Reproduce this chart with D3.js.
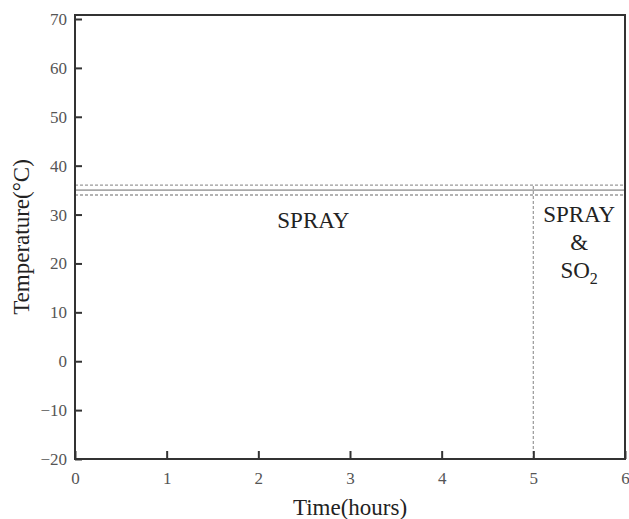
<!DOCTYPE html>
<html>
<head>
<meta charset="utf-8">
<script src="https://cdn.jsdelivr.net/npm/d3@7"></script>
<style>
  html, body { margin: 0; padding: 0; background: #fff; }
  svg text { font-family: "Liberation Serif", "Times New Roman", serif; }
</style>
</head>
<body>
<svg id="chart" width="629" height="519"></svg>
<script>
// Axis ticks
const xTicks = [0, 1, 2, 3, 4, 5, 6];
const yTicks = [-20, -10, 0, 10, 20, 30, 40, 50, 60, 70];

// Temperature set point and tolerance band (°C)
const setPoint = [35];
const bandLimits = [34, 36];

// Phase boundary (hours) and phase labels
const phaseSwitch = [5];
const phaseLabels = [
  { x: 2.6, y: 27.3, lines: ["SPRAY"] },
  { x: 5.5, y: 28.5, lines: ["SPRAY", "&", "SO2"] }
];

const margin = { top: 15, right: 4, bottom: 60, left: 75 };
const W = 629, H = 519;
const svg = d3.select("#chart");

const x = d3.scaleLinear().domain([0, 6]).range([margin.left, W - margin.right]);
const y = d3.scaleLinear().domain([-20, 70]).range([459, 19]);

const axisColor = "#333";

// Band lines
svg.selectAll("line.band").data(bandLimits).join("line")
  .attr("class", "band")
  .attr("x1", x(0)).attr("x2", x(6))
  .attr("y1", d => y(d)).attr("y2", d => y(d))
  .attr("stroke", "#9a9a9a").attr("stroke-width", 1.3)
  .attr("stroke-dasharray", "3,2");

// Set point line
svg.selectAll("line.set").data(setPoint).join("line")
  .attr("class", "set")
  .attr("x1", x(0)).attr("x2", x(6))
  .attr("y1", d => y(d)).attr("y2", d => y(d))
  .attr("stroke", "#a8a8a8").attr("stroke-width", 1.6);

// Phase boundary
svg.selectAll("line.phase").data(phaseSwitch).join("line")
  .attr("class", "phase")
  .attr("x1", d => x(d)).attr("x2", d => x(d))
  .attr("y1", y(-20)).attr("y2", y(bandLimits[1]))
  .attr("stroke", "#a0a0a0").attr("stroke-width", 1.3)
  .attr("stroke-dasharray", "3,2");

// Axes with inward ticks
const xAxis = d3.axisBottom(x).tickValues(xTicks).tickSizeInner(-8).tickSizeOuter(0).tickPadding(13)
  .tickFormat(d3.format("d"));
const gx = svg.append("g").attr("transform", `translate(0,${y(-20)})`).call(xAxis);
const yAxis = d3.axisLeft(y).tickValues(yTicks).tickSizeInner(-7).tickSizeOuter(0).tickPadding(8)
  .tickFormat(d => d < 0 ? "\u2212" + Math.abs(d) : d);
const gy = svg.append("g").attr("transform", `translate(${x(0)},0)`).call(yAxis);

[gx, gy].forEach(g => {
  g.select(".domain").remove();
  g.selectAll(".tick line").attr("stroke", axisColor).attr("stroke-width", 2);
  g.selectAll(".tick text").attr("fill", "#555").attr("font-size", 17);
});

// Frame
svg.append("rect")
  .attr("x", x(0)).attr("y", margin.top)
  .attr("width", x(6) - x(0)).attr("height", y(-20) - margin.top)
  .attr("fill", "none").attr("stroke", axisColor).attr("stroke-width", 2);

// Phase labels
phaseLabels.forEach(p => {
  const t = svg.append("text")
    .attr("x", x(p.x)).attr("text-anchor", "middle")
    .attr("font-size", 23).attr("fill", "#222");
  p.lines.forEach((ln, i) => {
    const ts = t.append("tspan").attr("x", x(p.x)).attr("y", y(p.y) + i * 28);
    if (ln === "SO2") {
      ts.text("SO");
      ts.append("tspan").attr("font-size", 16).attr("dy", 6).text("2");
    } else {
      ts.text(ln);
    }
  });
});

// Axis titles
svg.append("text")
  .attr("x", 350).attr("y", 515)
  .attr("text-anchor", "middle").attr("font-size", 23).attr("fill", "#222")
  .text("Time(hours)");
svg.append("text")
  .attr("transform", `translate(29,237) rotate(-90)`)
  .attr("text-anchor", "middle").attr("font-size", 23).attr("fill", "#222")
  .text("Temperature(\u00B0C)");
</script>
</body>
</html>
